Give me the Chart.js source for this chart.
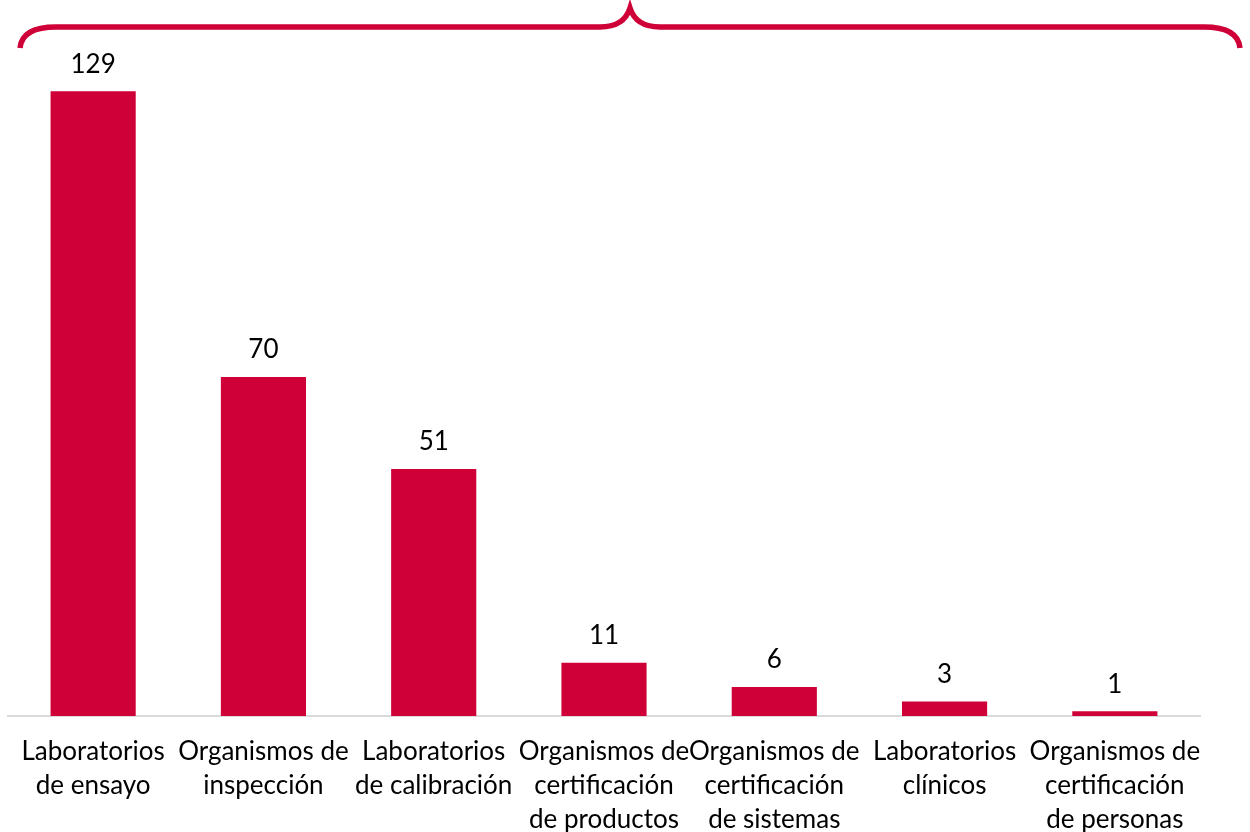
<!DOCTYPE html>
<html><head><meta charset="utf-8">
<script src="https://cdn.jsdelivr.net/npm/chart.js@4/dist/chart.umd.min.js"></script>
<style>html,body{margin:0;padding:0;background:#fff;}#c{display:block;}</style>
</head><body>
<canvas id="c" width="1250" height="832"></canvas>
<script>
const categories = [
  ["Laboratorios","de ensayo"],
  ["Organismos de","inspección"],
  ["Laboratorios","de calibración"],
  ["Organismos de","certificación","de productos"],
  ["Organismos de","certificación","de sistemas"],
  ["Laboratorios","clínicos"],
  ["Organismos de","certificación","de personas"]
];
const values = [129, 70, 51, 11, 6, 3, 1];

const RED = '#CE0037';
const FONT = 'Lato, "Open Sans", sans-serif';

const valueLabels = {
  id: 'valueLabels',
  afterDatasetsDraw(chart) {
    const ctx = chart.ctx;
    const meta = chart.getDatasetMeta(0);
    ctx.save();
    ctx.font = '26px ' + FONT;
    ctx.fillStyle = '#000';
    ctx.textAlign = 'center';
    ctx.textBaseline = 'middle';
    meta.data.forEach((bar, i) => {
      ctx.fillText(String(values[i]), bar.x, bar.y - 27);
    });
    ctx.restore();
  }
};

const brace = {
  id: 'brace',
  afterDraw(chart) {
    const ctx = chart.ctx;
    const L = 20, R = 1240, M = 630, yT = 27, yB = 48, r = 26;
    ctx.save();
    ctx.strokeStyle = RED;
    ctx.lineWidth = 5.5;
    ctx.lineCap = 'butt';
    ctx.beginPath();
    ctx.moveTo(L, yB);
    ctx.quadraticCurveTo(L + 2, yT, L + r + 10, yT);
    ctx.lineTo(M - 30, yT);
    ctx.quadraticCurveTo(M - 6, yT, M, 8);
    ctx.quadraticCurveTo(M + 6, yT, M + 30, yT);
    ctx.lineTo(R - r - 10, yT);
    ctx.quadraticCurveTo(R - 2, yT, R, yB);
    ctx.stroke();
    ctx.restore();
  }
};

new Chart(document.getElementById('c'), {
  type: 'bar',
  data: {
    labels: categories,
    datasets: [{
      data: values,
      backgroundColor: RED,
      borderWidth: 0,
      barPercentage: 0.5,
      categoryPercentage: 1.0
    }]
  },
  options: {
    responsive: false,
    animation: false,
    layout: { padding: { left: 8, right: 50, top: 38, bottom: 0 } },
    plugins: { legend: { display: false }, tooltip: { enabled: false } },
    scales: {
      y: { display: false, min: 0, max: 140 },
      x: {
        afterFit(scale) { scale.height = 116; },
        grid: { display: false, drawTicks: false },
        border: { color: '#d9d9d9', width: 2 },
        ticks: {
          color: '#000',
          font: { family: FONT, size: 26, lineHeight: 1.3 },
          maxRotation: 0, minRotation: 0, autoSkip: false, padding: 19
        }
      }
    }
  },
  plugins: [valueLabels, brace]
});
</script>
</body></html>
